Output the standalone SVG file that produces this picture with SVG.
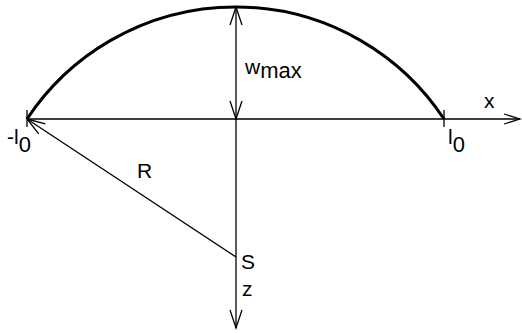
<svg xmlns="http://www.w3.org/2000/svg" width="522" height="333" viewBox="0 0 522 333">
<style>
.ln{stroke:#000;stroke-width:1.3;fill:none}
.arc{stroke:#000;stroke-width:3;fill:none}
text{font-family:"Liberation Sans",Arial,sans-serif;fill:#000;font-size:21px}
</style>
<defs>
<marker id="ah" markerUnits="userSpaceOnUse" markerWidth="22" markerHeight="16" refX="19" refY="7" orient="auto-start-reverse" viewBox="0 0 22 16">
<path d="M1,1 L19,7 L1,13" fill="none" stroke="#000" stroke-width="1.3"/>
</marker>
<marker id="ahx" markerUnits="userSpaceOnUse" markerWidth="20" markerHeight="14" refX="17" refY="6" orient="auto" viewBox="0 0 20 14">
<path d="M1,1 L17,6 L1,11" fill="none" stroke="#000" stroke-width="1.3"/>
</marker>
</defs>
<rect width="522" height="333" fill="#fff"/>
<g id="shape">
<path class="arc" d="M27,119 A250,250 0 0 1 444,119"/>
</g>
<g id="connectors">
<line class="ln" x1="27" y1="119" x2="520" y2="119" marker-end="url(#ahx)"/>
<line class="ln" x1="236" y1="119" x2="236" y2="328" marker-end="url(#ah)"/>
<line class="ln" x1="236" y1="7" x2="236" y2="119" marker-start="url(#ah)" marker-end="url(#ah)"/>
<line class="ln" x1="236" y1="257" x2="27" y2="119" marker-end="url(#ah)" stroke-width="1.2"/>
<line class="ln" x1="27" y1="110" x2="27" y2="127"/>
<line class="ln" x1="444" y1="110" x2="444" y2="127"/>
</g>
<g id="labels">
<text id="lbl-wmax" x="245" y="74" font-size="23">w<tspan font-size="22" dy="4">max</tspan></text>
<text id="lbl-x" x="484" y="108" font-size="24">x</text>
<text id="lbl-neg-l0" x="7" y="144" font-size="24">-l<tspan font-size="22" dy="8">0</tspan></text>
<text id="lbl-l0" x="448" y="144" font-size="24">l<tspan font-size="22" dy="8">0</tspan></text>
<text id="lbl-R" x="137" y="178" font-size="24">R</text>
<text id="lbl-S" x="241" y="269" font-size="24">S</text>
<text id="lbl-z" x="242" y="296" font-size="24">z</text>
</g>
</svg>
